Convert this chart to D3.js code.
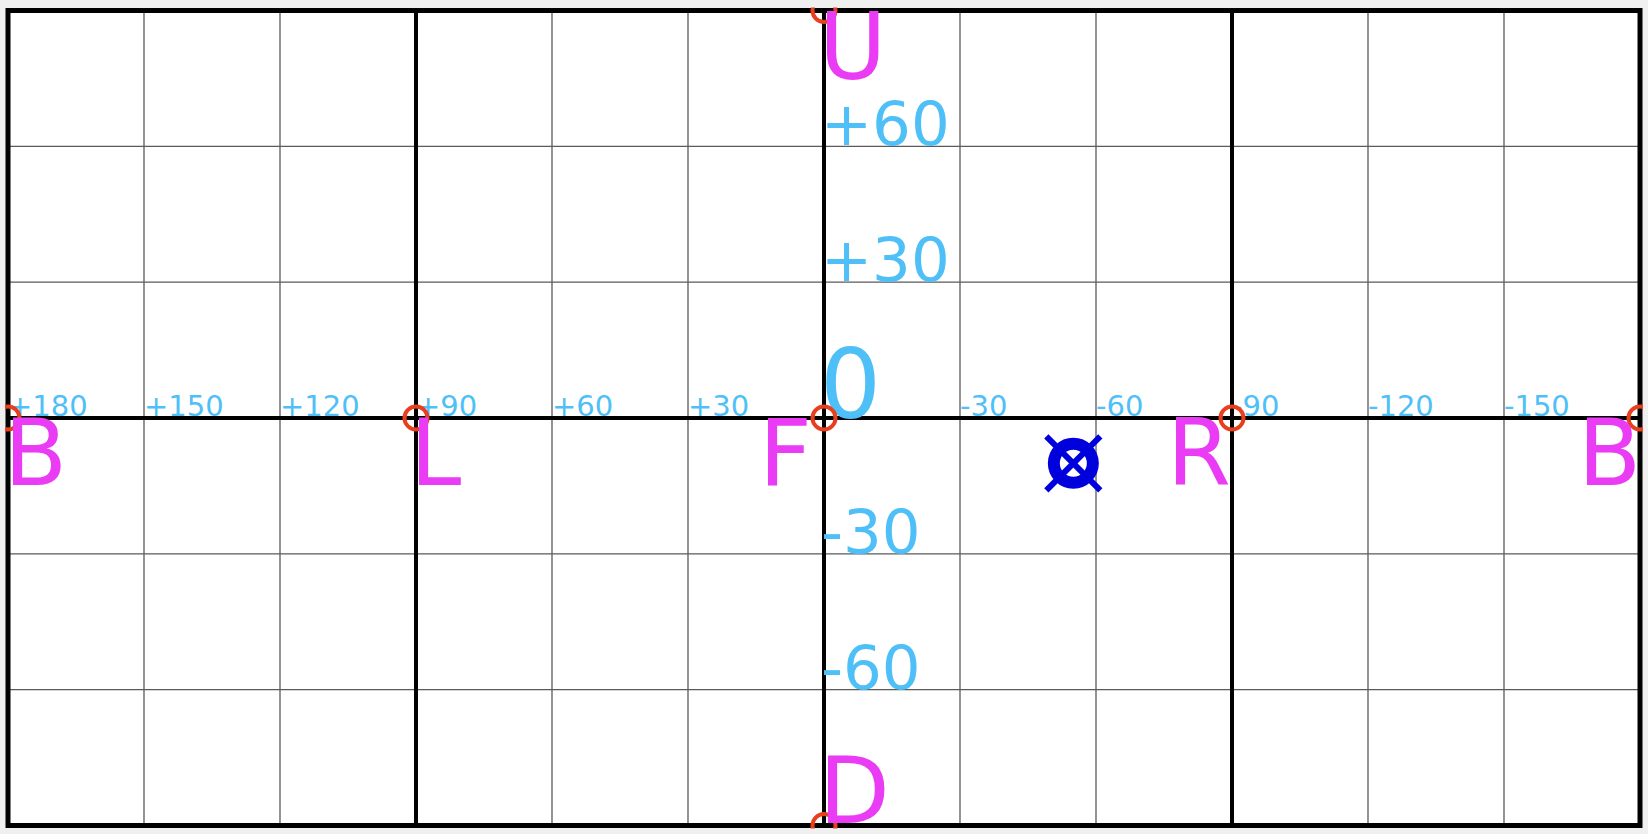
<!DOCTYPE html>
<html>
<head>
<meta charset="utf-8">
<script src="https://cdn.jsdelivr.net/npm/d3@7"></script>
<style>
  html, body { margin: 0; padding: 0; background: #f0f0f0; }
  svg { display: block; }
  text { font-family: "DejaVu Sans", Verdana, sans-serif; }
</style>
</head>
<body>
<script>
// ---- data ----
const xTicks = [180, 150, 120, 90, 60, 30, 0, -30, -60, -90, -120, -150, -180];
const xTickLabels = ["+180", "+150", "+120", "+90", "+60", "+30", "", "-30", "-60", "-90", "-120", "-150", ""];
const yTicks = [90, 60, 30, 0, -30, -60, -90];
const yTickLabels = ["", "+60", "+30", "0", "-30", "-60", ""];
const majorLon = [90, 0, -90];
const majorLat = [0];
const dirLabels = ["B", "L", "F", "R", "B", "U", "D"];
const dirLon = [180, 90, 0, -90, -180, 0, 0];
const dirLat = [0, 0, 0, 0, 0, 90, -90];
const pointLon = [-55];
const pointLat = [-10];

// ---- layout ----
const W = 1648, H = 834;
const x = d3.scaleLinear().domain([180, -180]).range([8, 1640]);
const y = d3.scaleLinear().domain([90, -90]).range([10.5, 825.5]);

const svg = d3.select("body").append("svg").attr("width", W).attr("height", H);
svg.append("rect").attr("width", W).attr("height", H).attr("fill", "#f0f0f0");
svg.append("rect")
  .attr("x", x(180)).attr("y", y(90))
  .attr("width", x(-180) - x(180)).attr("height", y(-90) - y(90))
  .attr("fill", "#ffffff");

svg.append("defs").append("clipPath").attr("id", "clip")
  .append("rect")
  .attr("x", x(180) - 3).attr("y", y(90) - 3)
  .attr("width", x(-180) - x(180) + 6).attr("height", y(-90) - y(90) + 6);

// minor grid
const grid = svg.append("g");
grid.selectAll("line.v").data(xTicks.filter(d => Math.abs(d) !== 180 && !majorLon.includes(d)))
  .join("line")
  .attr("x1", d => x(d)).attr("x2", d => x(d))
  .attr("y1", y(90)).attr("y2", y(-90))
  .attr("stroke", "#5a5a5a").attr("stroke-width", 1.3);
grid.selectAll("line.h").data(yTicks.filter(d => Math.abs(d) !== 90 && !majorLat.includes(d)))
  .join("line")
  .attr("x1", x(180)).attr("x2", x(-180))
  .attr("y1", d => y(d)).attr("y2", d => y(d))
  .attr("stroke", "#5a5a5a").attr("stroke-width", 1.3);

// major axes
svg.selectAll("line.mv").data(majorLon).join("line")
  .attr("x1", d => x(d)).attr("x2", d => x(d))
  .attr("y1", y(90)).attr("y2", y(-90))
  .attr("stroke", "#000").attr("stroke-width", 4);
svg.selectAll("line.mh").data(majorLat).join("line")
  .attr("x1", x(180)).attr("x2", x(-180))
  .attr("y1", d => y(d)).attr("y2", d => y(d))
  .attr("stroke", "#000").attr("stroke-width", 4);

// border
svg.append("rect")
  .attr("x", x(180)).attr("y", y(90))
  .attr("width", x(-180) - x(180)).attr("height", y(-90) - y(90))
  .attr("fill", "none").attr("stroke", "#000").attr("stroke-width", 5);

// horizontal tick labels
const blue = "#4fbff7";
svg.selectAll("text.xt").data(xTicks.map((d, i) => ({ v: d, t: xTickLabels[i] })).filter(d => d.t))
  .join("text")
  .attr("x", d => x(d.v)).attr("y", y(0) - 2)
  .attr("font-size", 29).attr("fill", blue)
  .text(d => d.t);

// vertical tick labels
svg.selectAll("text.yt").data(yTicks.map((d, i) => ({ v: d, t: yTickLabels[i] })).filter(d => d.t))
  .join("text")
  .attr("x", d => x(0) - (d.v === 0 ? 4 : 3)).attr("y", d => y(d.v) - (d.v === 0 ? 0 : 1))
  .attr("font-size", d => d.v === 0 ? 96 : 61).attr("fill", blue)
  .text(d => d.t);

// red circles
svg.append("g").attr("clip-path", "url(#clip)")
  .selectAll("circle").data(dirLon.map((d, i) => ({ lon: d, lat: dirLat[i] })))
  .join("circle")
  .attr("cx", d => x(d.lon)).attr("cy", d => y(d.lat)).attr("r", 11.5)
  .attr("fill", "none").attr("stroke", "#e8401e").attr("stroke-width", 4);

// direction letters
const magenta = "#ea3cf4";
const dirs = dirLabels.map((t, i) => ({ t, lon: dirLon[i], lat: dirLat[i] }));
svg.selectAll("text.dir").data(dirs).join("text")
  .attr("font-size", 92).attr("fill", magenta)
  .attr("text-anchor", d => {
    if (d.lat !== 0) return "start";
    if (d.lon === 180 || d.lon === 90) return "start";
    return "end";
  })
  .attr("x", d => {
    if (d.lat !== 0) return x(d.lon) - 5;
    if (d.lon === 180) return x(d.lon) - 4;
    if (d.lon === 90) return x(d.lon) - 6;
    if (d.lon === 0) return x(d.lon) - 12;
    if (d.lon === -90) return x(d.lon) - 1;
    return x(d.lon) + 1;
  })
  .attr("y", d => {
    if (d.lat === 90) return y(90) + 68;
    if (d.lat === -90) return y(-90) - 3;
    return y(0) + 67;
  })
  .text(d => d.t);

// blue marker
const mk = svg.selectAll("g.mk").data(pointLon.map((d, i) => ({ lon: d, lat: pointLat[i] })))
  .join("g")
  .attr("transform", d => `translate(${x(d.lon)},${y(d.lat)})`);
const mblue = "#0000dd";
mk.append("circle").attr("r", 19.5).attr("fill", "none").attr("stroke", mblue).attr("stroke-width", 12);
mk.append("line").attr("x1", -27).attr("y1", -27).attr("x2", 27).attr("y2", 27)
  .attr("stroke", mblue).attr("stroke-width", 6);
mk.append("line").attr("x1", 27).attr("y1", -27).attr("x2", -27).attr("y2", 27)
  .attr("stroke", mblue).attr("stroke-width", 6);
</script>
</body>
</html>
